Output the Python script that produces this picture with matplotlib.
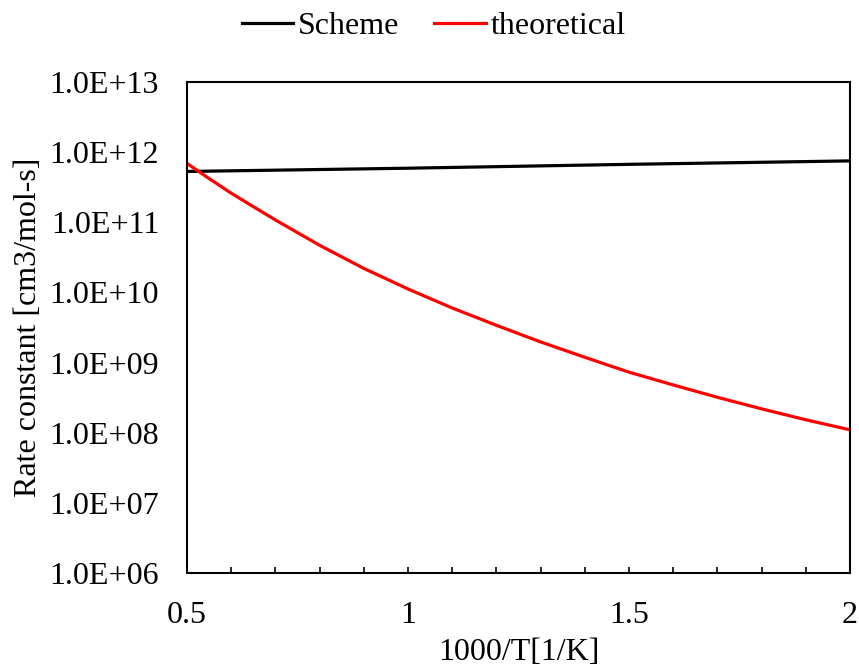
import numpy as np
import matplotlib.pyplot as plt
from matplotlib.ticker import FixedLocator, FuncFormatter, MultipleLocator, NullLocator

plt.rcParams['font.family'] = ['Liberation Serif', 'DejaVu Serif']

# 1000/T [1/K] and rate constants [cm3/mol-s]
inv_t_scheme = [0.5, 1.0, 1.5, 2.0]
k_scheme = [5.3e11, 5.9e11, 6.7e11, 7.5e11]

inv_t_theory = [0.5, 0.55, 0.6, 0.65, 0.7, 0.8, 0.9, 1.0, 1.1, 1.2, 1.3, 1.4,
                1.5, 1.6, 1.7, 1.8, 1.9, 2.0]
k_theory = [6.9e11, 4.2e11, 2.6e11, 1.67e11, 1.08e11, 4.7e10, 2.2e10, 1.12e10,
            6.0e9, 3.4e9, 1.97e9, 1.19e9, 7.3e8, 4.8e8, 3.2e8, 2.19e8, 1.53e8, 1.10e8]

fig = plt.figure(figsize=(8.59, 6.72), dpi=100)
ax = fig.add_axes([0.2177, 0.1473, 0.7718, 0.7307])

ax.plot(inv_t_scheme, k_scheme, color='black', lw=2.3, label='Scheme')
ax.plot(inv_t_theory, k_theory, color='#ff0000', lw=2.3, label='theoretical')

ax.set_yscale('log')
ax.set_xlim(0.5, 2.0)
ax.set_ylim(1e6, 1e13)

ax.xaxis.set_major_locator(MultipleLocator(0.5))
ax.xaxis.set_minor_locator(MultipleLocator(0.1))
ax.xaxis.set_major_formatter(FuncFormatter(lambda v, p: f'{v:g}'))
ax.tick_params(axis='x', which='both', direction='in', length=4.5, width=1.2,
               labelsize=23, pad=20, top=False)

ax.yaxis.set_major_locator(FixedLocator([10.0 ** e for e in range(6, 14)]))
ax.yaxis.set_minor_locator(NullLocator())
ax.yaxis.set_major_formatter(FuncFormatter(lambda v, p: f'1.0E+{int(round(np.log10(v))):02d}'))
ax.tick_params(axis='y', which='both', length=0, labelsize=23, pad=20)

for s in ax.spines.values():
    s.set_linewidth(1.5)

ax.set_xlabel('1000/T[1/K]', fontsize=23, labelpad=6)
ax.set_ylabel('Rate constant [cm3/mol-s]', fontsize=23, labelpad=5)

fig.legend(loc='upper center', bbox_to_anchor=(0.505, 1.025), ncol=2, frameon=False,
           fontsize=23, handlelength=1.6, handletextpad=0.15, columnspacing=1.1)

fig.savefig('out.png', dpi=100)
